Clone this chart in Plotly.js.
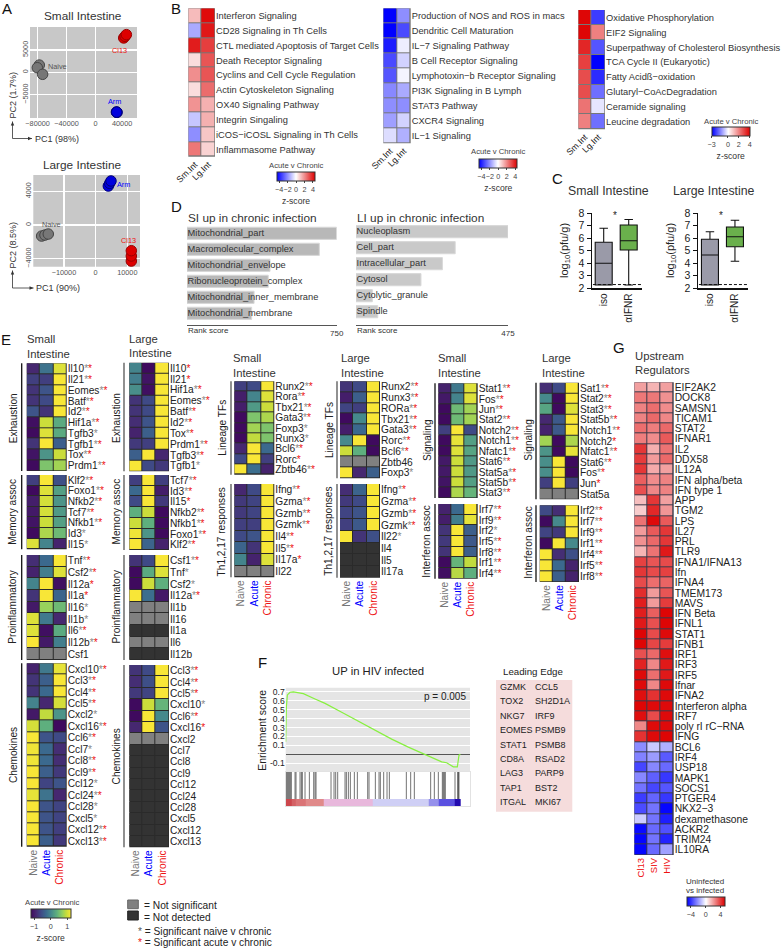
<!DOCTYPE html>
<html><head><meta charset="utf-8">
<script src="https://cdn.plot.ly/plotly-3.0.1.min.js"></script>
<style>html,body{margin:0;padding:0;background:#fff}#c{width:781px;height:949px}</style>
</head><body><div id="c"></div>
<script>
const NS=-3, ND=-4;
// ---- A: PCA
const smNaiveX=[-77700,-80460,-73100], smNaiveY=[1630,1040,-440];
const smCl13X=[39080,40920,42760], smCl13Y=[7700,8070,8440];
const smArmX=[28970,29900,29400], smArmY=[-8890,-8960,-8900];
const lgNaiveX=[-17050,-16000,-14950], lgNaiveY=[-1310,-1190,-1070];
const lgCl13X=[11260,11260,11260], lgCl13Y=[-4280,-3680,-3050];
const lgArmX=[4000,4420,4840], lgArmY=[4630,4950,5230];
// ---- B: pathways
const bCols=['Sm.Int','Lg.Int'];
const b1Rows=['Interferon Signaling','CD28 Signaling in Th Cells','CTL mediated Apoptosis of Target Cells','Death Receptor Signaling','Cyclins and Cell Cycle Regulation','Actin Cytoskeleton Signaling','OX40 Signaling Pathway','Integrin Singaling','iCOS−iCOSL Signaling in Th Cells','Inflammasome Pathway'];
const b1Z=[[1.2,4.3],[-1.5,4.1],[4.0,3.4],[0.6,3],[2,3],[0.6,2.6],[1.9,1.4],[-1,1.4],[-2,1],[2.4,0.8]];
const b2Rows=['Production of NOS and ROS in macs','Dendritic Cell Maturation','IL−7 Signaling Pathway','B Cell Receptor Signaling','Lymphotoxin−b Receptor Signaling','PI3K Signaling in B Lymph','STAT3 Pathway','CXCR4 Signaling','IL−1 Signaling'];
const b2Z=[[-4.5,-2],[-4.5,-3.2],[-4,-0.3],[-3.2,-0.8],[-3,-0.2],[-2.1,-1.5],[-2,-2],[-1.7,-0.8],[-0.6,-1.4]];
const b3Rows=['Oxidative Phosphorylation','EIF2 Signaling','Superpathway of Cholesterol Biosynthesis','TCA Cycle II (Eukaryotic)','Fatty Acidß−oxidation','Glutaryl−CoAcDegradation','Ceramide signaling','Leucine degradation'];
const b3Z=[[3.9,-2.3],[3.9,2],[3.4,-2],[3,-3],[2.8,-2.5],[2.8,-1.7],[2.2,-0.3],[2,-1.7]];
// ---- C: boxes
const boxNames=['iso','αIFNR'];
const siQ1=[2.27,5.07], siMed=[4.0,5.8], siQ3=[5.68,7.07], siLow=[2.27,2.27], siUp=[6.8,7.5];
const liQ1=[2.27,5.33], liMed=[4.67,6.13], liQ3=[5.92,6.9], liLow=[2.27,4.16], liUp=[6.53,7.44];
const detectionLimit=2.3;
// ---- D: bars
const dSiNames=['Mitochondrial_part','Macromolecular_complex','Mitochondrial_envelope','Ribonucleoprotein_complex','Mitochondrial_inner_membrane','Mitochondrial_membrane'];
const dSiVals=[750,663,416,407,336,324];
const dLiNames=['Nucleoplasm','Cell_part','Intracellular_part','Cytosol','Cytolytic_granule','Spindle'];
const dLiVals=[475,310,270,203,51,68];
// ---- E: gene heatmaps
const siExhGenes=['Il10**','Il21**','Eomes**','Batf**','Id2**','Hif1a**','Tgfb3*','Tgfb1**','Tox**','Prdm1**'];
const siExhZ=[[-.9,-.2,1.05],[-.7,-.7,1.2],[-.8,-.5,1.2],[-.8,-.6,1.2],[-.5,-.8,1.2],[-1.15,.95,.3],[-1.2,1.05,.3],[-.8,1.2,-.4],[-1.1,.1,.95],[-1.2,.55,.75]];
const siMemGenes=['Klf2**','Foxo1**','Nfkb2**','Tcf7**','Nfkb1**','Id3*','Il15*'];
const siMemZ=[[-.7,1.2,-.55],[-1.2,1.05,.2],[-1,1,.1],[-1.05,1,.15],[-1.1,.95,.2],[-1.2,.8,.45],[1.05,-.05,-.95]];
const siProGenes=['Tnf**','Csf2**','Il12a^','Il1a^','Il16*','Il1b*','Il6**','Il12b**','Csf1'];
const siProZ=[[-.85,-.3,1.2],[-.95,-.1,1.05],[-.05,1.2,-1.15],[-.8,1.2,-.35],[-1.05,.7,.45],[1.05,-.15,-.9],[1.05,-1.15,.3],[1.2,-1.05,-.1],[NS,NS,NS]];
const siCheGenes=['Cxcl10**','Ccl3**','Ccl4**','Ccl5**','Cxcl2*','Cxcl16**','Ccl6**','Ccl7*','Ccl8**','Ccl9**','Ccl12*','Ccl24**','Ccl28*','Cxcl5*','Cxcl12**','Cxcl13**'];
const siCheZ=[[-.95,-.15,1.1],[-.8,-.4,1.2],[-.8,-.3,1.2],[-.05,-.9,1],[-1.05,.9,.1],[1,.35,-1.2],[1.2,-.5,-.6],[1.15,-.3,-.85],[1.15,-.3,-.85],[1.2,-.4,-.75],[1.2,-.65,-.5],[1.1,-.2,-.9],[1.2,-.5,-.65],[1.2,-.5,-.65],[1.2,-.5,-.7],[1.2,-.4,-.75]];
const liExhGenes=['Il10^','Il21^','Hif1a**','Eomes**','Batf**','Id2**','Tox**','Prdm1**','Tgfb3**','Tgfb1*'];
const liExhZ=[[-.05,-1.2,1.2],[-.1,-1.1,1.2],[.05,-1.15,1.2],[-.8,-.6,1.2],[-.8,-.6,1.2],[-.85,-.5,1.2],[-.95,-.4,1.2],[-.75,-.7,1.2],[-.4,1.2,-.9],[1.2,-.6,-.75]];
const liMemGenes=['Tcf7**','Id3**','Il15^','Nfkb2**','Nfkb1**','Foxo1**','Klf2**'];
const liMemZ=[[-.7,1.2,-.7],[-.3,1.2,-1],[-.6,1.2,-.75],[.35,.95,-1.2],[.95,.35,-1.2],[1.15,.1,-1.2],[1.2,-.35,-.95]];
const liProGenes=['Csf1**','Tnf*','Csf2*','Il12a**','Il1b','Il16','Il1a','Il6','Il12b'];
const liProZ=[[-.8,-.6,1.2],[-1.2,.3,1.05],[-1.2,.95,.35],[1.2,-.25,-1.05],[NS,NS,NS],[NS,NS,NS],[ND,ND,ND],[NS,NS,NS],[ND,ND,ND]];
const liCheGenes=['Ccl3**','Ccl4**','Ccl5**','Cxcl10*','Ccl6**','Cxcl16^','Cxcl2','Ccl7','Ccl8','Ccl9','Ccl12','Ccl24','Ccl28','Cxcl5','Cxcl12','Cxcl13'];
const liCheZ=[[-.8,-.6,1.2],[-.85,-.55,1.2],[-.75,-.65,1.2],[-1.2,.95,.4],[-1.2,1.2,0],[-.9,1.2,-.5],[NS,NS,NS],[ND,ND,ND],[ND,ND,ND],[ND,ND,ND],[ND,ND,ND],[ND,ND,ND],[ND,ND,ND],[ND,ND,ND],[ND,ND,ND],[ND,ND,ND]];
const siLinGenes=['Runx2**','Rora**','Tbx21**','Gata3**','Foxp3*','Runx3*','Bcl6**','Rorc^','Zbtb46**'];
const siLinZ=[[-.7,-.6,1.2],[-1,-.05,1.05],[-1,.15,.95],[-1.2,.55,.8],[-1.2,.75,.55],[-1.2,.9,.55],[-.9,1.2,-.3],[-.6,1.2,-.7],[1.2,-.25,-.95]];
const siThGenes=['Ifng**','Gzma**','Gzmb**','Gzmk**','Il4**','Il5**','Il17a^','Il22'];
const siThZ=[[-.9,-.6,1.2],[-.75,-.65,1.2],[-.75,-.65,1.2],[-.7,-.7,1.2],[-.6,-.5,1.2],[-.35,-.8,1.2],[-.05,-.95,1.05],[NS,NS,NS]];
const liLinGenes=['Runx2**','Runx3**','RORa**','Tbx21**','Gata3**','Rorc**','Bcl6**','Zbtb46','Foxp3*'];
const liLinZ=[[-.8,-.6,1.2],[-1,-.4,1.2],[-.65,-.7,1.2],[-1.2,0,1.2],[-1,-.3,1.2],[0,1.2,-1.2],[.95,.35,-1.2],[NS,NS,NS],[1.2,-.9,-.4]];
const liThGenes=['Ifng**','Gzma**','Gzmb**','Gzmk**','Il22*','Il4','Il5','Il17a'];
const liThZ=[[-.85,-.35,1.2],[-.75,-.6,1.2],[-.65,-.5,1.2],[-.7,-.45,1.2],[1.2,-.8,-.55],[ND,ND,ND],[ND,ND,ND],[ND,ND,ND]];
const siSigGenes=['Stat1**','Fos**','Jun**','Stat2**','Notch2**','Notch1**','Nfatc1**','Stat6**','Stat5a**','Stat5b**','Stat3**'];
const siSigZ=[[-.95,-.15,1.05],[-1.05,-.05,1.05],[-1.2,.45,.75],[-1.2,.45,.75],[-.7,1.2,-.6],[-1.2,1.1,.2],[-1.2,1.05,.25],[-1.05,.95,.15],[-1.05,.95,.15],[-1.1,.95,.2],[-1.2,.8,.4]];
const siIfnGenes=['Irf7**','Irf9**','Irf2*','Irf5**','Irf8**','Irf1**','Irf4**'];
const siIfnZ=[[-.95,-.3,1.2],[-1,-.1,1.1],[-.8,1.2,-.4],[-.75,1.2,-.45],[-.8,1.2,-.4],[-1.2,.4,.9],[-1.15,.85,.35]];
const liSigGenes=['Sat1**','Stat2**','Stat3**','Stat5b**','Notch1**','Notch2^','Nfatc1**','Stat6**','Fos**','Jun^','Stat5a'];
const liSigZ=[[-.85,-.6,1.2],[0,-1.2,1.2],[.25,-1.2,1.05],[-.9,-.45,1.2],[-.95,-.45,1.2],[.75,-1.2,.8],[.1,-1.2,1.1],[.05,1.2,-1.2],[.05,1.2,-1.2],[-.7,1.2,-.7],[NS,NS,NS]];
const liIfnGenes=['Irf2**','Irf7**','Irf9**','Irf1**','Irf4**','Irf5**','Irf8**'];
const liIfnZ=[[-.6,-.85,1.2],[-1.2,0,1.2],[-.65,-.75,1.2],[-1.2,1.2,0],[1.2,-.85,-.55],[1.2,-.3,-.95],[1.2,-.4,-.95]];
// ---- F: GSEA
const esRank=[0,2,5,13,23,53,88,118,168,218,268,318,368,418,468,483,503,515,520,524];
const esScore=[.14,.53,.665,.695,.70,.68,.62,.57,.47,.37,.27,.17,.08,0,-.085,-.095,-.14,-.14,-.01,0];
const esTicks=[.7,.6,.5,.4,.3,.2,.1,-.1];
const hitRanks=[2,5,8,11,14,17,28,31,43,47,50,58,71,84,88,91,136,145,150,156,178,182,188,194,206,215,246,250,269,280,284,294,304,311,362,375,386,435,446,458,470,473,476,479,508,516,518,520];
const bandEdges=[0,18,30,60,113,261,428,458,508,526];
const bandVals=[.95,.85,.78,.7,.55,.35,.25,.15,.02];
const leadCol1=['GZMK','TOX2','NKG7','EOMES','STAT1','CD8A','LAG3','TAP1','ITGAL'];
const leadCol2=['CCL5','SH2D1A','IRF9','PSMB9','PSMB8','RSAD2','PARP9','BST2','MKI67'];
// ---- G: upstream regulators
const gCols=['Cl13','SIV','HIV'];
const gRows=['EIF2AK2','DOCK8','SAMSN1','TICAM1','STAT2','IFNAR1','IL2','DDX58','IL12A','IFN alpha/beta','IFN type 1','APP','TGM2','LPS','IL27','PRL','TLR9','IFNA1/IFNA13','Ifn','IFNA4','TMEM173','MAVS','IFN Beta','IFNL1','STAT1','IFNB1','IRF1','IRF3','IRF5','Ifnar','IFNA2','Interferon alpha','IRF7','poly rI rC−RNA','IFNG','BCL6','IRF4','USP18','MAPK1','SOCS1','PTGER4','NKX2−3','dexamethasone','ACKR2','TRIM24','IL10RA'];
const gZ=[[1.9,1.5,1.9],[2.7,2.7,2.2],[2.5,2.9,2.3],[2.5,3,2.4],[2.9,2.6,3],[2.6,2.3,3.3],[4,1.6,2.8],[3.9,2,3],[4,1.7,1.9],[3.2,2.3,2.5],[3.5,2.4,2.5],[1.3,4,1.9],[1,4.3,2.1],[2.8,4.9,3.3],[2,3.3,4],[2.2,3,4],[1.5,2.8,4.6],[3.8,3.4,3.6],[4,3.6,3.8],[3.6,2.9,3.1],[4.2,2,3.4],[4.5,2,3.9],[4.5,3.2,5],[4.6,3.5,5],[5,3.6,4.9],[5,3.7,3.9],[3.5,3,4.8],[4.4,2.4,4.6],[4.9,2.9,4.6],[4.9,2.4,4.9],[4.8,4.1,4.9],[5,4.9,4.9],[4.8,3.6,4.9],[2.4,4.9,4.9],[4.1,4.9,5],[-2.3,-1.1,-1.6],[-2.5,-2,-3.3],[-3.7,-2.4,-3],[-2.4,-3.2,-4],[-2.8,-3.7,-3.4],[-3.9,-3.1,-4],[-3.6,-2.8,-5],[-1,-2.8,-4.5],[-4.9,-3,-3.5],[-5,-2.8,-4.4],[-5,-3,-1.9]];

// ================= layout machinery =================
const W=781,H=949,FONT='"Liberation Sans", Arial, sans-serif';
const GREY='#777',BLUE='#0000ff',RED='#ee1111';
const VIR=[[0,'#3f0a5e'],[.12,'#46276f'],[.25,'#3f4a86'],[.38,'#3b6a8e'],[.5,'#46898c'],[.65,'#5fb07e'],[.78,'#92cf60'],[.88,'#c4dc3c'],[1,'#f8e637']];
const traces=[],annotations=[],shapes=[];
const layout={width:W,height:H,margin:{l:0,r:0,t:0,b:0,autoexpand:false},paper_bgcolor:'#fff',plot_bgcolor:'rgba(0,0,0,0)',showlegend:false,font:{family:FONT,color:'#222'},annotations,shapes,hovermode:false};
let axN=0;
const base={showgrid:false,zeroline:false,showline:false,ticks:'',fixedrange:true};
function axes(x0,x1,y0,y1,xo,yo){
  axN++; const s=axN===1?'':axN;
  layout['xaxis'+s]=Object.assign({},base,{domain:[x0/W,x1/W],anchor:'y'+s},xo||{});
  layout['yaxis'+s]=Object.assign({},base,{domain:[1-y1/H,1-y0/H],anchor:'x'+s},yo||{});
  return {xaxis:'x'+s,yaxis:'y'+s};
}
function txt(x,y,t,o){o=o||{};annotations.push({xref:'paper',yref:'paper',x:x/W,y:1-y/H,text:t,showarrow:false,xanchor:o.xa||'left',yanchor:'middle',textangle:o.rot||0,borderpad:0,font:{size:o.size||10,color:o.color||'#222',family:FONT}});}
function rect(x0,y0,x1,y1,fill,line){shapes.push({type:'rect',layer:'below',xref:'paper',yref:'paper',x0:x0/W,x1:x1/W,y0:1-y0/H,y1:1-y1/H,fillcolor:fill,line:line?{color:line,width:1}:{width:0}});}
function ln(x0,y0,x1,y1,c,w){shapes.push({type:'line',xref:'paper',yref:'paper',x0:x0/W,x1:x1/W,y0:1-y0/H,y1:1-y1/H,line:{color:c,width:w||1}});}
function tri(p){shapes.push({type:'path',xref:'paper',yref:'paper',path:'M'+p.map(q=>(q[0]/W)+','+(1-q[1]/H)).join('L')+'Z',fillcolor:'#333',line:{width:0}});}
const star=g=>g.replace(/\*\*$/,'<span style="color:#888">*</span><span style="color:#ee1111">*</span>').replace(/\^$/,'<span style="color:#ee1111">*</span>').replace(/([^>])\*$/,'$1<span style="color:#888">*</span>');
const colored=(t,c)=>'<span style="color:'+c+'">'+t+'</span>';
const BWR=(lo,hi)=>[[0,'#0000ff'],[-lo/(hi-lo),'#ffffff'],[1,'#dd0000']];

function heat(x0,x1,y0,y1,colLabels,rowLabels,z,o){
  const n=z.length,m=z[0].length;
  rect(x0,y0,x1,y1,o.gapColor||'#2a2a2a');
  const a=axes(x0,x1,y0,y1,{range:[-.5,m-.5],tickmode:'array',tickvals:colLabels?colLabels.map((_,i)=>i):[],ticktext:colLabels||[],tickangle:o.xAngle===undefined?-90:o.xAngle,tickfont:{size:o.xSize||10.2},showticklabels:!!colLabels},
    {side:'right',range:[n-.5,-.5],tickmode:'array',tickvals:rowLabels.map((_,i)=>i),ticktext:rowLabels,tickfont:{size:o.size||10.2,color:o.color||'#222'}});
  const g=Object.assign({type:'heatmap',z:z,x:z[0].map((_,i)=>i),y:z.map((_,i)=>i),xgap:1,ygap:1,hoverinfo:'skip',showscale:false},a);
  traces.push(Object.assign(g,o.trace));
  return a;
}
function eHeat(x0,x1,y0,y1,genes,z,bottom,cb){
  const main=z.map(r=>r.map(v=>v<=NS?null:v));
  const over=z.map(r=>r.map(v=>v<=NS?v:null));
  const a=heat(x0,x1,y0,y1,bottom?[colored('Naive',GREY),colored('Acute',BLUE),colored('Chronic',RED)]:null,genes.map(star),main,{trace:Object.assign({colorscale:VIR,zmin:-1.2,zmax:1.2},cb?{showscale:true,colorbar:cb}:{})});
  if(z.some(r=>r[0]<=NS)) traces.push(Object.assign({type:'heatmap',z:over,x:z[0].map((_,i)=>i),y:z.map((_,i)=>i),xgap:1,ygap:1,hoverinfo:'skip',showscale:false,colorscale:[[0,'#333333'],[1,'#808080']],zmin:ND,zmax:NS},a));
}
function cbar(x0,y0,len,ticks,title){const c={orientation:'h',x:x0/W,xanchor:'left',y:1-y0/H,yanchor:'top',lenmode:'pixels',len:len,thicknessmode:'pixels',thickness:9,xpad:0,ypad:0,tickmode:'array',tickvals:ticks,ticktext:ticks.map(v=>String(v).replace('-','−')),tickangle:0,ticks:'outside',ticklen:2,tickwidth:1,tickcolor:'#444',tickfont:{size:7.2,color:'#444',family:FONT},outlinecolor:'#333',outlinewidth:1,borderwidth:0};
  if(title) c.title={text:title,side:'bottom',font:{size:8.6,color:'#333',family:FONT}};
  return c;}

// ---- panel letters
[['A',1,8.5],['B',170,8.5],['D',170,206],['C',551,178],['E',0,339],['F',257,662],['G',612,347]].forEach(l=>txt(l[1],l[2],l[0],{size:15,color:'#111'}));

// ---- A
function pca(x0,x1,y0,y1,xr,yr,xt,yt,sets){
  rect(x0,y0,x1,y1,'#c8c8c8');
  const tk={tickfont:{size:7.3,color:'#555'}};
  const a=axes(x0,x1,y0,y1,Object.assign({range:xr,tickmode:'array',tickvals:xt,ticktext:xt.map(v=>String(v).replace('-','−')),showgrid:true,gridcolor:'#fff',gridwidth:1.3},tk),
    Object.assign({range:yr,tickmode:'array',tickvals:yt,ticktext:yt.map(v=>String(v).replace('-','−')),tickangle:-90,showgrid:true,gridcolor:'#fff',gridwidth:1.3},tk));
  sets.forEach(s=>traces.push(Object.assign({type:'scatter',mode:'markers',x:s[0],y:s[1],marker:{size:10.5,color:s[2],line:{color:s[3],width:1}},hoverinfo:'skip',cliponaxis:false},a)));
}
pca(30,137,27,118,[-90570,57470],[-10220,10150],[-80000,-40000,0],[-5000,0,5000],[[smNaiveX,smNaiveY,'#777','#444'],[smCl13X,smCl13Y,'#dd0000','#990000'],[smArmX,smArmY,'#0000dd','#000077']]);
txt(122,124,'40000',{size:7.3,color:'#555',xa:'center'});
pca(33.3,140,175,266.7,[-19680,14000],[-4950,5940],[-10000,0,10000],[-4000,0,4000],[[lgNaiveX,lgNaiveY,'#777','#444'],[lgCl13X,lgCl13Y,'#dd0000','#990000'],[lgArmX,lgArmY,'#0000dd','#000077']]);
txt(83.3,15.7,'Small Intestine',{size:11.8,xa:'center',color:'#333'});
txt(82.3,165,'Large Intestine',{size:11.8,xa:'center',color:'#333'});
txt(120,50,'Cl13',{size:7.3,color:RED,xa:'center'});
txt(57.7,66.7,'Naive',{size:7.3,color:'#555',xa:'center'});
txt(114.3,101.7,'Arm',{size:7.3,color:BLUE,xa:'center'});
txt(124,184.7,'Arm',{size:7.3,color:BLUE,xa:'center'});
txt(51.7,224.7,'Naive',{size:7.3,color:'#555',xa:'center'});
txt(128,240,'Cl13',{size:7.3,color:RED,xa:'center'});
txt(12.5,95,'PC2 (1.7%)',{size:9,rot:-90,xa:'center',color:'#333'});
txt(33.5,139,'PC1 (98%)',{size:9,color:'#333'});
txt(12.5,245,'PC2 (8.5%)',{size:9,rot:-90,xa:'center',color:'#333'});
txt(34.5,288,'PC1 (90%)',{size:9,color:'#333'});
function elbow(x,yTop,yBot,xr){
  ln(x,yTop,x,yBot,'#333',.8); ln(x,yBot,xr,yBot,'#333',.8);
  tri([[x,yTop],[x-1.7,yTop+4],[x+1.7,yTop+4]]);
  tri([[xr,yBot],[xr-4,yBot-1.7],[xr-4,yBot+1.7]]);
}
elbow(12.5,121.5,138.5,32);
elbow(12.5,270.5,288,33.5);

// ---- B
const bLab={size:9.3,color:'#333',xAngle:-45,xSize:8.8};
heat(188.3,215,8.3,156.7,bCols,b1Rows,b1Z,Object.assign({gapColor:'#777',trace:{colorscale:BWR(-4.5,4.5),zmin:-4.5,zmax:4.5,showscale:true,colorbar:cbar(277,172,38,[-4,-2,0,2,4],'z-score')}},bLab));
heat(383.3,410.7,8.3,143.3,bCols,b2Rows,b2Z,Object.assign({gapColor:'#777',trace:{colorscale:BWR(-4.5,4.5),zmin:-4.5,zmax:4.5,showscale:true,colorbar:cbar(479.3,159,38,[-4,-2,0,2,4],'z-score')}},bLab));
heat(578.3,605,10,129.3,bCols,b3Rows,b3Z,Object.assign({gapColor:'#777',trace:{colorscale:BWR(-3,4),zmin:-3,zmax:4,showscale:true,colorbar:cbar(711.7,127.3,38,[-3,0,2,4],'z-score')}},bLab));
[[296,166],[498,151],[731,121]].forEach(p=>txt(p[0],p[1],'Acute v Chronic',{size:7.7,xa:'center',color:'#444'}));

// ---- C
function boxes(x0,x1,xr,q1,med,q3,low,up,title,tx,ylabX,starX){
  const a=axes(x0,x1,213.3,288.3,{range:xr,tickmode:'array',tickvals:[0,1],ticktext:boxNames,tickangle:-90,tickfont:{size:10,color:'#222'},showline:true,linecolor:'#111',linewidth:1.2},
    {range:[2,8],tickmode:'array',tickvals:[2,3,4,5,6,7,8],ticks:'outside',ticklen:4,tickwidth:1,tickcolor:'#111',tickfont:{size:10.5,color:'#222'},showline:true,linecolor:'#111',linewidth:1.2});
  const cols=['#9a9aa8','#6ab04c'];
  [0,1].forEach(i=>traces.push(Object.assign({type:'box',x:[i],q1:[q1[i]],median:[med[i]],q3:[q3[i]],lowerfence:[low[i]],upperfence:[up[i]],width:.68,whiskerwidth:.5,fillcolor:cols[i],line:{color:'#111',width:1.1},boxpoints:false,hoverinfo:'skip'},a)));
  traces.push(Object.assign({type:'scatter',mode:'lines',x:[xr[0]+.05,xr[1]],y:[detectionLimit,detectionLimit],line:{color:'#111',width:1,dash:'3px,2px'},hoverinfo:'skip'},a));
  txt(tx,191,title,{size:12.3,xa:'center',color:'#333'});
  txt(ylabX,251,'log<sub>10</sub>(pfu/g)',{size:11,rot:-90,xa:'center',color:'#222'});
  txt(starX,215,'*',{size:10,xa:'center',color:'#222'});
}
boxes(591.7,641.7,[-.48,1.52],siQ1,siMed,siQ3,siLow,siUp,'Small Intestine',608,565,615);
boxes(697.7,747.7,[-.49,1.51],liQ1,liMed,liQ3,liLow,liUp,'Large Intestine',714,671,721);

// ---- D
function bars(x0,x1,y0,yFirst,names,vals,maxV,fill,title,titleX){
  const step=16, b=325;
  const a=axes(x0,x1,y0,b,{range:[0,maxV],tickmode:'array',tickvals:[maxV],ticktext:[String(maxV)],showline:true,linecolor:'#555',linewidth:1,ticks:'inside',ticklen:3,tickcolor:'#555',tickfont:{size:8,color:'#333'}},
    {range:[(b-yFirst)/step,(y0-yFirst)/step],showticklabels:false});
  const ys=names.map((_,i)=>i);
  traces.push(Object.assign({type:'bar',orientation:'h',x:vals,y:ys,width:.76,marker:{color:fill,line:{color:'#d8d8d8',width:1}},hoverinfo:'skip'},a));
  traces.push(Object.assign({type:'scatter',mode:'text',x:names.map(()=>maxV*.004),y:ys,text:names,textposition:'middle right',textfont:{size:9.3,color:'#333',family:FONT},cliponaxis:false,hoverinfo:'skip'},a));
  txt(titleX,218,title,{size:11.8,color:'#333'});
  txt(titleX,331,'Rank score',{size:8,color:'#333'});
}
bars(187,336.7,225,233.3,dSiNames,dSiVals,750,'#b8b8b8','SI up in chronic infection',187);
bars(356,508,225,231.7,dLiNames,dLiVals,475,'#c9c9c9','LI up in chronic infection',356);

// ---- E left columns
const cbE=cbar(30.7,909.3,40,[-1,0,1],'z-score');
eHeat(26.7,66.7,363.3,471,siExhGenes,siExhZ);
eHeat(26.7,66.7,475,549.3,siMemGenes,siMemZ);
eHeat(26.7,66.7,555,660,siProGenes,siProZ);
eHeat(26.7,66.7,663.3,846.7,siCheGenes,siCheZ,true,cbE);
eHeat(129.3,169,362.7,471.3,liExhGenes,liExhZ);
eHeat(129.3,169,475,550,liMemGenes,liMemZ);
eHeat(129.3,169,555,660,liProGenes,liProZ);
eHeat(129.3,169,665,847.3,liCheGenes,liCheZ,true);
eHeat(234.3,274.3,381.3,474.7,siLinGenes,siLinZ);
eHeat(234.3,274.3,484,577.3,siThGenes,siThZ,true);
eHeat(340,380,381.3,478.3,liLinGenes,liLinZ);
eHeat(340,380,484,577.7,liThGenes,liThZ,true);
eHeat(438.3,477.7,383.3,498,siSigGenes,siSigZ);
eHeat(438.3,477.7,504,578.7,siIfnGenes,siIfnZ,true);
eHeat(539.7,579,382.7,499.3,liSigGenes,liSigZ);
eHeat(539.7,579,505.3,582,liIfnGenes,liIfnZ,true);
// brackets
[[21.7,363.3,471],[21.7,475,549.3],[21.7,555,660],[21.7,663.3,846.7],[435,383.3,498],[435,504,578.7],[536,382.7,499.3],[536,505.3,582]].forEach(b=>ln(b[0],b[1],b[0],b[2],'#111',1.3));
[[124,362.7,471.3],[124,475,550],[124,555,660],[124,665,847.3],[231,381.3,474.7],[231,484,577.3],[337,381.3,478.3],[337,484,577.7]].forEach(b=>ln(b[0],b[1],b[0],b[2],'#555',1.3));
// group labels
[[13,418.3,'Exhaustion'],[13,511.7,'Memory assoc'],[13,606.7,'Proinflammatory'],[13,755,'Chemokines'],[116.7,418.3,'Exhaustion'],[116.7,511.7,'Memory assoc'],[116.7,606.7,'Proinflammatory'],[116.7,756.7,'Chemokines'],[221.7,428,'Lineage TFs'],[221.7,531.7,'Th1,2,17 responses'],[329,430,'Lineage TFs'],[329,531.7,'Th1,2,17 responses'],[427,440,'Signaling'],[427,541.7,'Interferon assoc'],[527.7,440,'Signaling'],[527.7,543,'Interferon assoc']].forEach(g=>txt(g[0],g[1],g[2],{rot:-90,xa:'center',size:10.1,color:'#222'}));
// headers
[[26,339.5,'Small','Intestine'],[127.7,339,'Large','Intestine'],[231.7,358.3,'Small','Intestine'],[340,358.3,'Large','Intestine'],[436.7,358.3,'Small','Intestine'],[540.7,358.3,'Large','Intestine'],[634,356,'Upstream','Regulators']].forEach(h=>{txt(h[0],h[1],h[2],{size:11.3,color:'#333'});txt(h[0],h[1]+14.3,h[3],{size:11.3,color:'#333'});});
// legend E
txt(52,902,'Acute v Chronic',{size:7.7,xa:'center',color:'#444'});
rect(127.7,900,138.3,908.7,'#808080','#666');
rect(127.7,911,138.3,920,'#333333','#222');
txt(143.3,905,'= Not significant',{size:10.2});
txt(143.3,917,'= Not detected',{size:10.2});
txt(137,931.5,'<span style="color:#555">*</span> = Significant naive v chronic',{size:10.2});
txt(137,942.7,'<span style="color:#ee1111">*</span> = Significant acute v chronic',{size:10.2});

// ---- F
rect(285.7,687.7,470,771.7,'#e5e5e5');
const fTop=axes(285.7,470,687.7,771.7,{range:[0,553],showticklabels:false},
 {range:[-.195,.746],tickmode:'array',tickvals:esTicks,ticktext:esTicks.map(String),showgrid:true,gridcolor:'#fff',gridwidth:1,zeroline:true,zerolinecolor:'#555',zerolinewidth:1,tickfont:{size:8.6,color:'#222'}});
traces.push(Object.assign({type:'scatter',mode:'lines',x:esRank,y:esScore,line:{color:'#88f040',width:1.2},hoverinfo:'skip'},fTop));
const fRug=axes(285.7,470,771.7,806,{range:[0,553],showticklabels:false,showline:true,mirror:true,linecolor:'#e2e2e2',linewidth:1},{range:[0,103],showticklabels:false,showline:true,mirror:true,linecolor:'#e2e2e2',linewidth:1});
traces.push(Object.assign({type:'scatter',mode:'lines',x:hitRanks.flatMap(h=>[h,h,null]),y:hitRanks.flatMap(()=>[21,103,null]),line:{color:'rgba(0,0,0,.55)',width:1},hoverinfo:'skip'},fRug));
traces.push(Object.assign({type:'heatmap',z:[bandVals],x:bandEdges,y:[0,21],zmin:0,zmax:1,showscale:false,hoverinfo:'skip',colorscale:[[0,'#1a00a8'],[.15,'#5a50e0'],[.35,'#cfcff5'],[.55,'#e8b8dc'],[.7,'#e08a8a'],[1,'#c83840']]},fRug));
txt(378,671,'UP in HIV infected',{size:11.3,xa:'center',color:'#222'});
txt(466.7,696.7,'p = 0.005',{size:10,xa:'right',color:'#222'});
txt(261.7,730,'Enrichment score',{size:10.4,rot:-90,xa:'center',color:'#222'});
rect(496,680,572.3,811.7,'#f5dcdc');
txt(501.7,671,'Leading Edge',{size:9.7,color:'#222'});
leadCol1.forEach((g,i)=>{const y=686.7+i*14.45;txt(499,y,g,{size:9,color:'#222'});txt(534.3,y,leadCol2[i],{size:9,color:'#222'});});

// ---- G
heat(634.3,673.7,382.3,855,gCols.map(c=>colored(c,RED)),gRows,gZ,{size:10.3,xSize:9.5,gapColor:'#3a3a4a',trace:{colorscale:BWR(-5.1,5.1),zmin:-5.1,zmax:5.1,showscale:true,colorbar:cbar(686.7,897.3,37.5,[-4,0,4])}});
txt(705.3,881,'Uninfected',{size:8,xa:'center',color:'#333'});
txt(705.3,890,'vs infected',{size:8,xa:'center',color:'#333'});

Plotly.newPlot('c',traces,layout,{staticPlot:true,displayModeBar:false});
</script></body></html>
